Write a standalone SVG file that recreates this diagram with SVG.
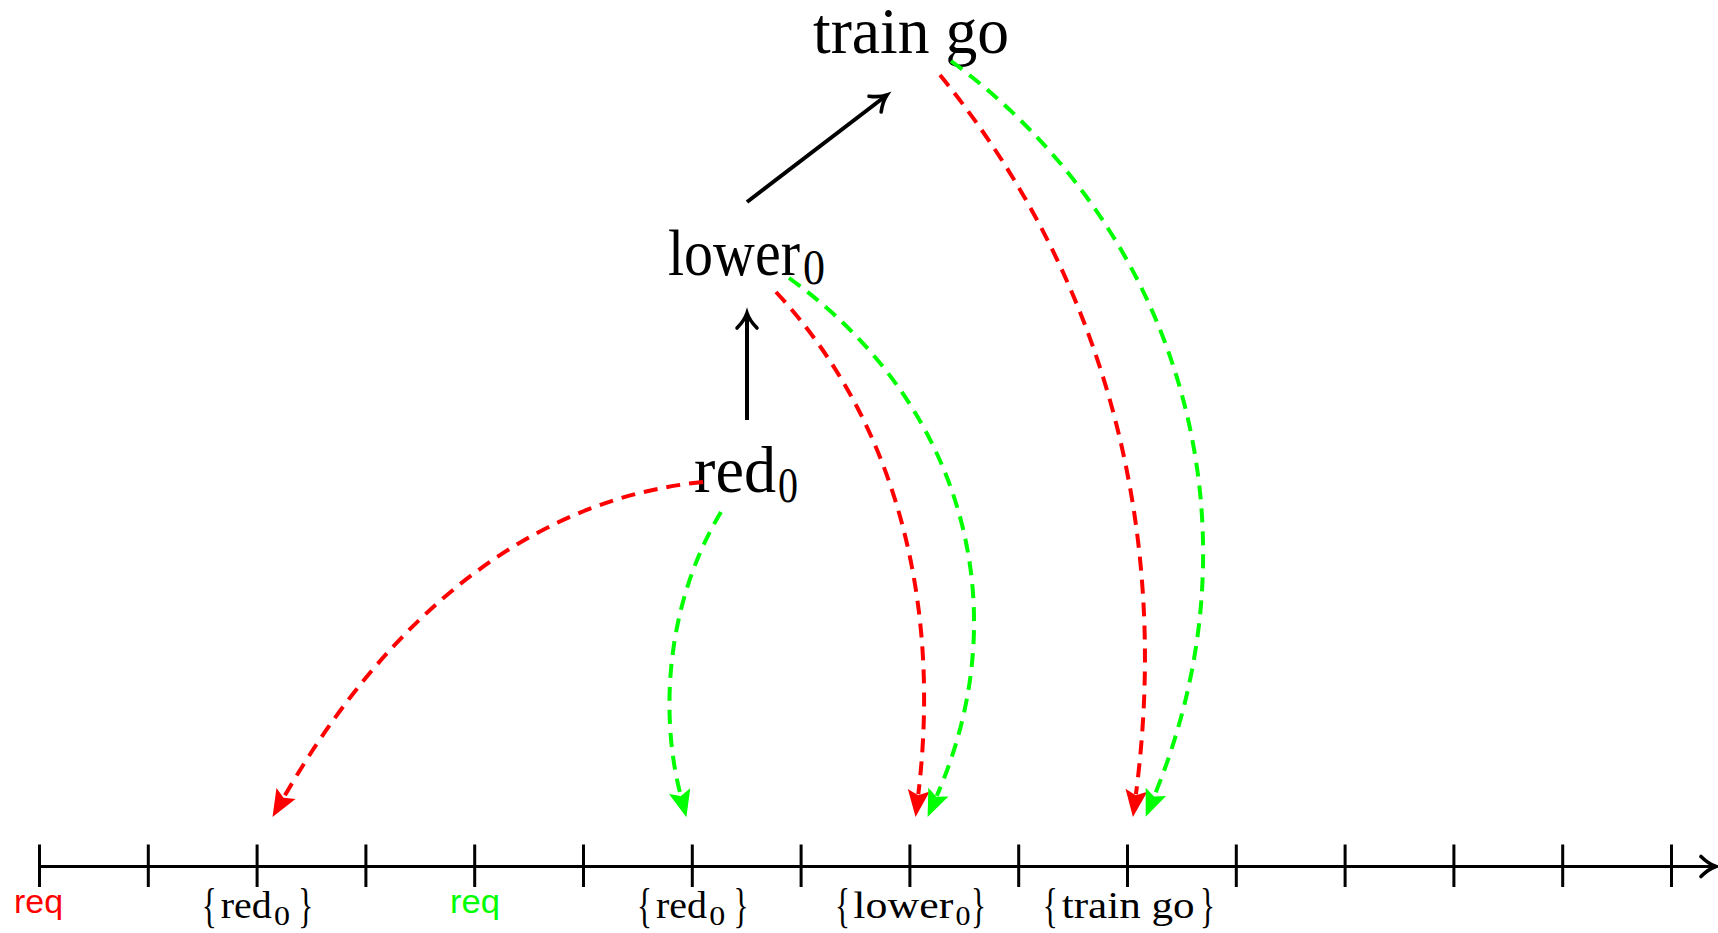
<svg xmlns="http://www.w3.org/2000/svg" width="1718" height="933" viewBox="0 0 1718 933">
<style>
.serif{font-family:"Liberation Serif","Times New Roman",serif;fill:#000}
.big{font-size:65px}
.bsub{font-size:50px}
.lab{font-size:38px}
.lsub{font-size:28px}
.brace{font-size:49px}
.sans{font-family:"Liberation Sans",Arial,sans-serif;font-size:34px}
.dash{fill:none;stroke-width:4;stroke-dasharray:14 9}
.red{stroke:#ff0000}
.grn{stroke:#00ff00}
.blk{fill:none;stroke:#000;stroke-width:4}
.axis{fill:none;stroke:#000;stroke-width:3}
</style>
<defs>
<marker id="arR" markerUnits="userSpaceOnUse" orient="auto" refX="0" refY="0" markerWidth="40" markerHeight="30" viewBox="-10 -15 40 30">
<path d="M23,0 L-4,-11 L1,0 L-4,11 Z" fill="#ff0000"/>
</marker>
<marker id="arG" markerUnits="userSpaceOnUse" orient="auto" refX="0" refY="0" markerWidth="40" markerHeight="30" viewBox="-10 -15 40 30">
<path d="M23,0 L-4,-11 L1,0 L-4,11 Z" fill="#00ff00"/>
</marker>
<marker id="arK" markerUnits="userSpaceOnUse" orient="auto" refX="0" refY="0" markerWidth="30" markerHeight="30" viewBox="-22 -15 30 30">
<path d="M-15,-10 C-9,-4 -3,-1 0,0 C-3,1 -9,4 -15,10" fill="none" stroke="#000" stroke-width="3.6" stroke-linecap="round"/>
</marker>
</defs>
<rect width="1718" height="933" fill="#fff"/>

<g id="axis">
<path class="axis" d="M39.5,866.5 L1716,866.5" marker-end="url(#arK)"/>
<path class="axis" d="M39.5,844.5V887 M148.3,844.5V887 M257.1,844.5V887 M365.9,844.5V887 M474.7,844.5V887 M583.5,844.5V887 M692.3,844.5V887 M801.1,844.5V887 M909.9,844.5V887 M1018.7,844.5V887 M1127.5,844.5V887 M1236.3,844.5V887 M1345.1,844.5V887 M1453.9,844.5V887 M1562.7,844.5V887 M1671.5,844.5V887"/>
</g>

<g id="label-req-red">
<text class="sans" x="14" y="913" textLength="49" lengthAdjust="spacingAndGlyphs" fill="#ff0000">req</text>
</g>
<g id="label-red0-a">
<text class="serif brace" x="201.7" y="922" textLength="15" lengthAdjust="spacingAndGlyphs">{</text>
<text class="serif lab" x="220.7" y="918" textLength="51" lengthAdjust="spacingAndGlyphs">red</text>
<text class="serif lsub" x="274" y="925" textLength="16" lengthAdjust="spacingAndGlyphs">0</text>
<text class="serif brace" x="298.3" y="922" textLength="15" lengthAdjust="spacingAndGlyphs">}</text>
</g>
<g id="label-req-green">
<text class="sans" x="450" y="913" textLength="50" lengthAdjust="spacingAndGlyphs" fill="#00ff00">req</text>
</g>
<g id="label-red0-b">
<text class="serif brace" x="637" y="922" textLength="15" lengthAdjust="spacingAndGlyphs">{</text>
<text class="serif lab" x="656" y="918" textLength="51" lengthAdjust="spacingAndGlyphs">red</text>
<text class="serif lsub" x="709.3" y="925" textLength="16" lengthAdjust="spacingAndGlyphs">0</text>
<text class="serif brace" x="733.6" y="922" textLength="15" lengthAdjust="spacingAndGlyphs">}</text>
</g>
<g id="label-lower0">
<text class="serif brace" x="835" y="922" textLength="15" lengthAdjust="spacingAndGlyphs">{</text>
<text class="serif lab" x="853.3" y="918" textLength="100" lengthAdjust="spacingAndGlyphs">lower</text>
<text class="serif lsub" x="955.5" y="925" textLength="15" lengthAdjust="spacingAndGlyphs">0</text>
<text class="serif brace" x="971" y="922" textLength="15" lengthAdjust="spacingAndGlyphs">}</text>
</g>
<g id="label-traingo">
<text class="serif brace" x="1042.7" y="922" textLength="15" lengthAdjust="spacingAndGlyphs">{</text>
<text class="serif lab" x="1061.7" y="918" textLength="133" lengthAdjust="spacingAndGlyphs">train go</text>
<text class="serif brace" x="1200" y="922" textLength="15" lengthAdjust="spacingAndGlyphs">}</text>
</g>

<g id="node-traingo">
<text class="serif big" x="813" y="53" textLength="196" lengthAdjust="spacingAndGlyphs">train go</text>
</g>
<g id="node-lower0">
<text class="serif big" x="668" y="275" textLength="132" lengthAdjust="spacingAndGlyphs">lower</text>
<text class="serif bsub" x="803" y="284" textLength="22" lengthAdjust="spacingAndGlyphs">0</text>
</g>
<g id="node-red0">
<text class="serif big" x="694" y="492" textLength="82" lengthAdjust="spacingAndGlyphs">red</text>
<text class="serif bsub" x="778" y="502" textLength="20" lengthAdjust="spacingAndGlyphs">0</text>
</g>

<g id="connectors">
<path class="blk" d="M747,420 L747,313" marker-end="url(#arK)"/>
<path class="blk" d="M747,202 L887,95" marker-end="url(#arK)"/>
<path class="dash red" d="M703,482 C470,505 337,705 284,797" marker-end="url(#arR)"/>
<path class="dash grn" d="M721,512 C665,605 660,716 680.6,795" marker-end="url(#arG)"/>
<path class="dash red" d="M776,292 C898,423 941,605.5 918.3,794.2" marker-end="url(#arR)"/>
<path class="dash grn" d="M789,278 C959,400 1020.8,603.2 936.8,795.8" marker-end="url(#arG)"/>
<path class="dash red" d="M940,75 C1097.5,267.5 1172.3,517 1135.9,794.2" marker-end="url(#arR)"/>
<path class="dash grn" d="M951,61 C1175,226 1268.4,518.1 1154.4,795.6" marker-end="url(#arG)"/>
</g>
</svg>
